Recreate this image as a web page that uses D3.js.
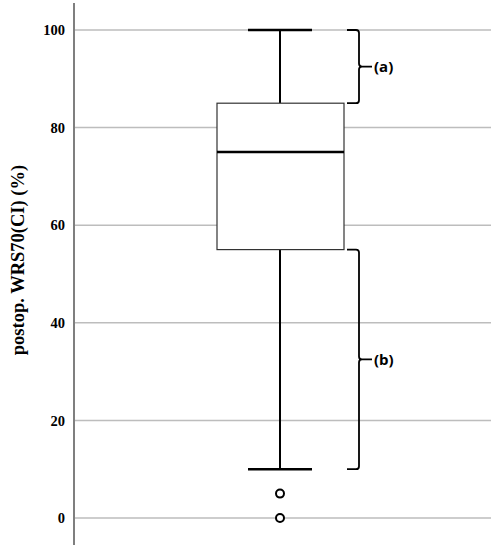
<!DOCTYPE html>
<html><head><meta charset="utf-8">
<script src="https://cdn.jsdelivr.net/npm/d3@7"></script>
<style>body{margin:0;background:#fff}svg{display:block}</style>
</head><body><svg id="c" width="491" height="550"></svg>
<script>
const yTicks = [0, 20, 40, 60, 80, 100];
const boxStats = {min: 10, q1: 55, median: 75, q3: 85, max: 100};
const outliers = [5, 0];
const braces = [{label: "(a)", from: 85, to: 100}, {label: "(b)", from: 10, to: 55}];
const yTitle = "postop. WRS70(CI) (%)";

const svg = d3.select("#c");
const y = d3.scaleLinear().domain([0, 100]).range([518, 30]);
const cx = 280;

// gridlines
svg.append("g").selectAll("line").data(yTicks).join("line")
  .attr("x1", 75).attr("x2", 491)
  .attr("y1", d => y(d)).attr("y2", d => y(d))
  .attr("stroke", "#bdbdbd").attr("stroke-width", 1.5);

// axis
const axis = d3.axisLeft(y).tickValues(yTicks).tickSize(0).tickPadding(9);
const ag = svg.append("g").attr("transform", "translate(74,0)").call(axis);
ag.select(".domain").remove();
ag.selectAll("text").attr("font-family", "Liberation Serif, serif")
  .attr("font-weight", "bold").attr("font-size", 14.5).attr("fill", "#000");
svg.append("line").attr("x1", 74).attr("x2", 74).attr("y1", 3).attr("y2", 545)
  .attr("stroke", "#555").attr("stroke-width", 1.5);

const tt = svg.append("text").attr("transform", "translate(24,260) rotate(-90)")
  .attr("text-anchor", "middle").attr("font-family", "Liberation Serif, serif")
  .attr("font-weight", "bold").attr("font-size", 18.5).attr("fill", "#000").text(yTitle);

// whiskers
const g = svg.append("g");
g.append("line").attr("x1", cx).attr("x2", cx).attr("y1", y(boxStats.max)).attr("y2", y(boxStats.q3))
  .attr("stroke", "#000").attr("stroke-width", 2);
g.append("line").attr("x1", cx).attr("x2", cx).attr("y1", y(boxStats.q1)).attr("y2", y(boxStats.min))
  .attr("stroke", "#000").attr("stroke-width", 2);
[boxStats.max, boxStats.min].forEach(v => {
  g.append("line").attr("x1", 248).attr("x2", 312).attr("y1", y(v)).attr("y2", y(v))
    .attr("stroke", "#000").attr("stroke-width", 2.5);
});
g.append("rect").attr("x", 217).attr("width", 127)
  .attr("y", y(boxStats.q3)).attr("height", y(boxStats.q1) - y(boxStats.q3))
  .attr("fill", "#fff").attr("stroke", "#333").attr("stroke-width", 1.2);
g.append("line").attr("x1", 217).attr("x2", 344).attr("y1", y(boxStats.median)).attr("y2", y(boxStats.median))
  .attr("stroke", "#000").attr("stroke-width", 2.5);
g.selectAll("circle").data(outliers).join("circle")
  .attr("cx", cx).attr("cy", d => y(d)).attr("r", 4)
  .attr("fill", "#fff").attr("stroke", "#000").attr("stroke-width", 2);

// braces
braces.forEach(b => {
  const yt = y(b.to), yb = y(b.from), ym = (yt + yb) / 2;
  const xl = 347, xv = 359, xt = 372;
  const p = `M${xl},${yt} L${xv-3},${yt} Q${xv},${yt} ${xv},${yt+3} L${xv},${ym-3} Q${xv},${ym} ${xv+3},${ym} L${xt},${ym} M${xv+3},${ym} Q${xv},${ym} ${xv},${ym+3} L${xv},${yb-3} Q${xv},${yb} ${xv-3},${yb} L${xl},${yb}`;
  svg.append("path").attr("d", p).attr("fill", "none").attr("stroke", "#000").attr("stroke-width", 1.8);
  svg.append("text").attr("x", 374).attr("y", ym + 5.5).attr("font-family", "Open Sans, sans-serif")
    .attr("font-weight", "bold").attr("font-size", 15).attr("fill", "#000").text(b.label);
});
</script></body></html>
